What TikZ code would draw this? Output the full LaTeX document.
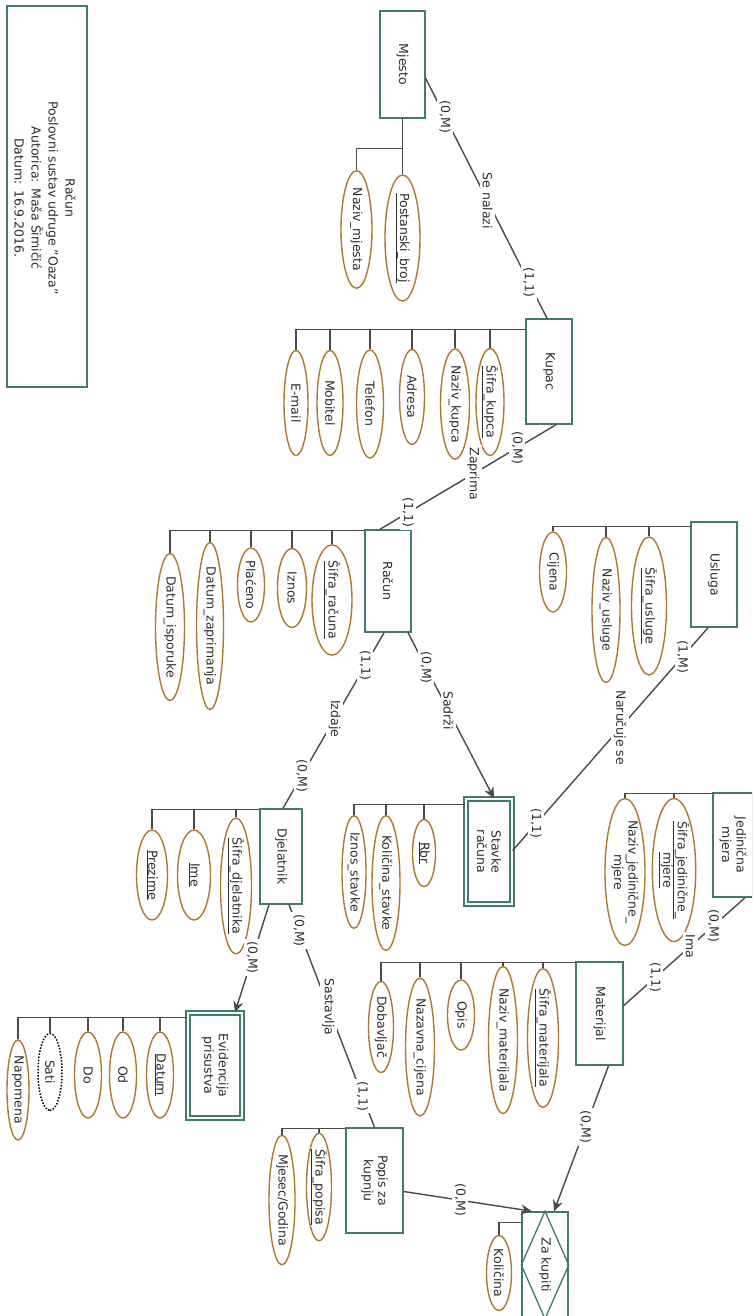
\documentclass[tikz,border=0pt]{standalone}
\usepackage{fontspec}
\setmainfont{DejaVu Sans}
\usetikzlibrary{calc,arrows.meta,shapes.geometric}
\definecolor{entc}{HTML}{3F7A70}
\definecolor{attc}{HTML}{AC7A2C}
\definecolor{linec}{HTML}{4A4A4A}
\definecolor{txtc}{HTML}{2E2E2E}
\begin{document}
\begin{tikzpicture}[x=1pt,y=-1pt,
  every node/.style={font=\fontsize{12.5}{14.5}\selectfont, text=txtc},
  ent/.style={draw=entc, line width=1.5pt, fill=white, rectangle, rotate=-90, align=center, inner sep=1pt},
  weak/.style={ent, double=white, double distance=2.6pt, line width=1.3pt},
  attr/.style={draw=attc, line width=1.4pt, ellipse, fill=white, rotate=-90, align=center, inner sep=0pt},
  derived/.style={attr, draw=black, dash pattern=on 1.5pt off 1.6pt, line width=1.5pt},
  rel/.style={draw=linec, line width=1.4pt},
  comb/.style={draw=linec, line width=1.5pt},
  lbl/.style={rotate=-90, fill=white, inner sep=2.5pt},
  arr/.style={rel, -{Stealth[length=11pt,width=10pt]}}
]
\clip (0,0) rectangle (752,1316);
\fill[white] (0,0) rectangle (752,1316);

% title
\node[draw=entc, line width=1.5pt, minimum width=381pt, minimum height=80pt, rotate=-90] (title) at (47,196.5) {};
\node[rotate=-90, align=center, font=\fontsize{12.5}{17}\selectfont] (titletext) at (45,198) {Račun\\Poslovni sustav udruge "Oaza"\\Autorica: Maša Šimičić\\Datum: 16.9.2016.};

% entities
\node[ent, minimum width=107pt, minimum height=45pt] (mjesto) at (402.5,64.5) {Mjesto};
\node[ent, minimum width=105pt, minimum height=46pt] (kupac) at (549,371.5) {Kupac};
\node[ent, minimum width=102pt, minimum height=46pt] (racun) at (388,581) {Račun};
\node[ent, minimum width=105pt, minimum height=46pt] (usluga) at (714,574.5) {Usluga};
\node[weak, minimum width=105pt, minimum height=46pt] (stavke) at (489,851.5) {Stavke\\računa};
\node[ent, minimum width=95pt, minimum height=42pt] (djelatnik) at (281,856.5) {Djelatnik};
\node[ent, minimum width=104pt, minimum height=40pt] (jedinicna) at (733,845) {Jedinična\\mjera};
\node[ent, minimum width=103pt, minimum height=47pt] (materijal) at (599.5,1013.5) {Materijal};
\node[weak, minimum width=105pt, minimum height=54pt] (evidencija) at (215,1065.5) {Evidencija\\prisustva};
\node[ent, minimum width=105pt, minimum height=57pt] (popis) at (374.5,1180.5) {Popis za\\kupnju};
\node[ent, minimum width=106pt, minimum height=46pt] (zakupiti) at (545,1265) {Za kupiti};
\draw[draw=entc, line width=1.3pt] (zakupiti.west) -- (zakupiti.north) -- (zakupiti.east) -- (zakupiti.south) -- cycle;

% attributes
\node[attr, minimum width=107pt, minimum height=31pt] (nmjesta) at (356.5,229.5) {Naziv\_mjesta};
\node[attr, minimum width=124pt, minimum height=35pt] (pbroj) at (402.5,238) {\underline{Postanski\_broj}};

\node[attr, minimum width=107pt, minimum height=28pt] (skupca) at (490,402) {\underline{Šifra\_kupca}};
\node[attr, minimum width=108pt, minimum height=29pt] (nkupca) at (455,404) {Naziv\_kupca};
\node[attr, minimum width=95pt, minimum height=25pt] (adresa) at (412,397) {Adresa};
\node[attr, minimum width=108pt, minimum height=27pt] (telefon) at (370,404) {Telefon};
\node[attr, minimum width=105pt, minimum height=26pt] (mobitel) at (330,403) {Mobitel};
\node[attr, minimum width=105pt, minimum height=24pt] (email) at (296,403) {E-mail};

\node[attr, minimum width=105pt, minimum height=40pt] (sracuna) at (332,600) {\underline{Šifra\_računa}};
\node[attr, minimum width=79pt, minimum height=29pt] (iznos) at (292,588) {Iznos};
\node[attr, minimum width=74pt, minimum height=27pt] (placeno) at (251,585) {Plaćeno};
\node[attr, minimum width=147pt, minimum height=27pt] (dzap) at (210,626) {Datum\_zaprimanja};
\node[attr, minimum width=147pt, minimum height=29pt] (disp) at (170,627) {Datum\_isporuke};

\node[attr, minimum width=138pt, minimum height=35pt] (susluge) at (649,606) {\underline{Šifra\_usluge}};
\node[attr, minimum width=145pt, minimum height=28pt] (nusluge) at (606,610) {Naziv\_usluge};
\node[attr, minimum width=80pt, minimum height=27pt] (cijena) at (553,572) {Cijena};

\node[attr, minimum width=67pt, minimum height=23pt] (rbr) at (424,853) {\underline{Rbr}};
\node[attr, minimum width=127pt, minimum height=28pt] (kstavke) at (386,883) {Količina\_stavke};
\node[attr, minimum width=103pt, minimum height=24pt] (istavke) at (354,872) {Iznos\_stavke};

\node[attr, minimum width=118pt, minimum height=31pt] (sdjel) at (236,886) {\underline{Šifra\_djelatnika}};
\node[attr, minimum width=90pt, minimum height=33pt] (ime) at (194,875) {\underline{Ime}};
\node[attr, minimum width=90pt, minimum height=31pt] (prezime) at (152,875) {\underline{Prezime}};

\node[attr, minimum width=143pt, minimum height=42pt] (sjm) at (674,870) {\underline{Šifra\_jedinične\_}\\\underline{mjere}};
\node[attr, minimum width=147pt, minimum height=40pt] (njm) at (625,872) {Naziv\_jedinične\_\\mjere};

\node[attr, minimum width=120pt, minimum height=31pt] (smat) at (543,1038) {\underline{Šifra\_materijala}};
\node[attr, minimum width=125pt, minimum height=29pt] (nmat) at (503,1040) {Naziv\_materijala};
\node[attr, minimum width=70pt, minimum height=27pt] (opis) at (461,1015) {Opis};
\node[attr, minimum width=131pt, minimum height=29pt] (ncij) at (420,1047) {Nazavna\_cijena};
\node[attr, minimum width=91pt, minimum height=25pt] (dobav) at (381,1027) {Dobavljač};

\node[attr, minimum width=86pt, minimum height=27pt] (datum) at (160,1075) {\underline{Datum}};
\node[attr, minimum width=86pt, minimum height=27pt] (od) at (123,1075) {Od};
\node[attr, minimum width=86pt, minimum height=27pt] (do) at (88,1075) {Do};
\node[derived, minimum width=77pt, minimum height=24pt] (sati) at (50,1072) {Sati};
\node[attr, minimum width=100pt, minimum height=22pt] (napomena) at (18,1090) {Napomena};

\node[attr, minimum width=103pt, minimum height=25pt] (spopisa) at (319,1187) {\underline{Šifra\_popisa}};
\node[attr, minimum width=125pt, minimum height=26pt] (mgod) at (282,1200) {Mjesec/Godina};

\node[attr, minimum width=75pt, minimum height=25pt] (kolicina) at (499,1273) {Količina};

% attribute combs
\draw[comb] (mjesto.east) -- (pbroj.west);
\draw[comb] ($(mjesto.east)+(0,30)$) -| (nmjesta.west);
\foreach \a in {skupca,nkupca,adresa,telefon,mobitel,email}
  \draw[comb] ($(kupac.south west)+(0,11)$) -| (\a.west);
\foreach \a in {sracuna,iznos,placeno,dzap,disp}
  \draw[comb] ($(racun.south west)+(0,1)$) -| (\a.west);
\foreach \a in {susluge,nusluge,cijena}
  \draw[comb] ($(usluga.south west)+(0,5)$) -| (\a.west);
\foreach \a in {rbr,kstavke,istavke}
  \draw[comb] ($(stavke.south west)+(0,6)$) -| (\a.west);
\foreach \a in {sdjel,ime,prezime}
  \draw[comb] ($(djelatnik.south west)+(0,1)$) -| (\a.west);
\foreach \a in {sjm,njm}
  \draw[comb] ($(jedinicna.south west)+(0,1)$) -| (\a.west);
\foreach \a in {smat,nmat,opis,ncij,dobav}
  \draw[comb] ($(materijal.south west)+(0,1)$) -| (\a.west);
\foreach \a in {datum,od,do,sati,napomena}
  \draw[comb] ($(evidencija.south west)+(0,5)$) -| (\a.west);
\foreach \a in {spopisa,mgod}
  \draw[comb] ($(popis.south west)+(0,1)$) -| (\a.west);
\draw[comb] ($(zakupiti.south west)+(0,11)$) -| (kolicina.west);

% relationships
\draw[rel] ($(mjesto.north)+(0,14)$) -- node[lbl,pos=.16]{(0,M)} node[lbl,pos=.51]{Se nalazi} node[lbl,pos=.85]{(1,1)} ($(kupac.west)+(-2,0)$);
\draw[rel] ($(kupac.east)+(7,0)$) -- node[lbl,pos=.22]{(0,M)} node[lbl,pos=.47]{Zaprima} node[lbl,pos=.84]{(1,1)} ($(racun.west)+(-8,0)$);
\draw[arr] ($(racun.east)+(20,0)$) -- node[lbl,pos=.21]{(0,M)} node[lbl,pos=.47]{Sadrži} ($(stavke.west)+(5,0)$);
\draw[rel] ($(racun.east)+(-4,0)$) -- node[lbl,pos=.185]{(1,1)} node[lbl,pos=.49]{Izdaje} node[lbl,pos=.815]{(0,M)} ($(djelatnik.west)+(2,0)$);
\draw[rel] ($(usluga.east)+(-6,0)$) -- node[lbl,pos=.13]{(1,M)} node[lbl,pos=.45]{Naručuje se} node[lbl,pos=.88]{(1,1)} ($(stavke.north)+(0,-1)$);
\draw[rel] ($(jedinicna.east)+(12,0)$) -- node[lbl,pos=.26]{(0,M)} node[lbl,pos=.45]{Ima} node[lbl,pos=.74]{(1,1)} ($(materijal.north)+(0,-8)$);
\draw[arr] ($(djelatnik.east)+(-12,0)$) -- node[lbl,pos=.49]{(0,M)} ($(evidencija.west)+(20,0)$);
\draw[rel] ($(djelatnik.east)+(8,0)$) -- node[lbl,pos=.116]{(0,M)} node[lbl,pos=.46]{Sastavlja} node[lbl,pos=.86]{(1,1)} (popis.west);
\draw[arr] ($(popis.north)+(0,11)$) -- node[lbl,pos=.44]{(0,M)} ($(zakupiti.west)+(-13,0)$);
\draw[arr] ($(materijal.east)+(9,0)$) -- node[lbl,pos=.42]{(0,M)} ($(zakupiti.west)+(9,0)$);
\end{tikzpicture}
\end{document}
